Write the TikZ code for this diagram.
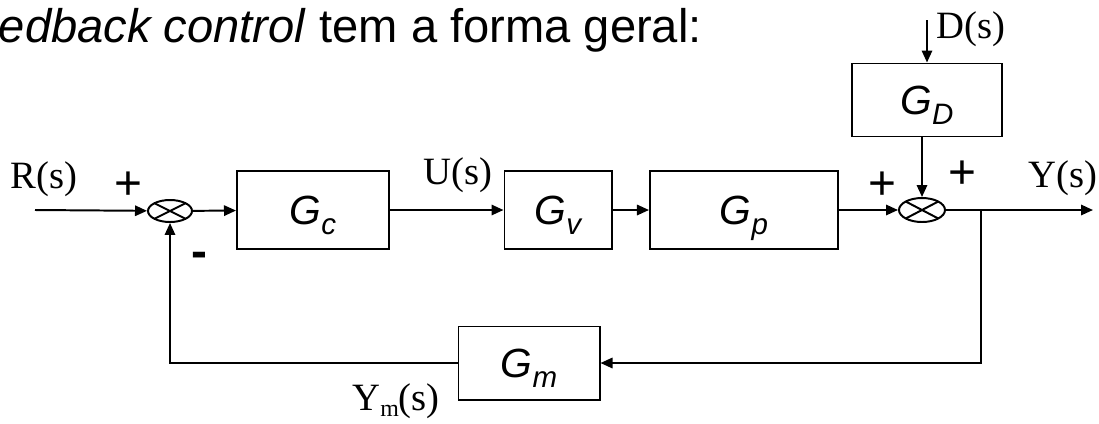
\documentclass[tikz,border=0pt]{standalone}
\usepackage{fontspec}
\setmainfont{Liberation Sans}
\newfontfamily\tms{Liberation Serif}
\usetikzlibrary{arrows.meta,shapes.geometric}
\newcommand{\gl}[1]{G\raisebox{-0.5ex}{\fontsize{21}{21}\selectfont #1}}
\tikzset{
  >={Triangle[length=3mm,width=2.6mm]},
  wire/.style={line width=1.4pt},
  sig/.style={->, line width=1.4pt},
  blk/.style={draw, line width=1.4pt, inner sep=0pt, minimum height=1.95cm,
    text height=20pt, text depth=0pt,
    font=\fontsize{29}{29}\selectfont\itshape},
  sumj/.style={draw, ellipse, line width=1.4pt, inner sep=0pt,
    minimum width=1.1cm, minimum height=0.55cm,
    path picture={\draw[line width=1.4pt]
      (path picture bounding box.north west) -- (path picture bounding box.south east)
      (path picture bounding box.south west) -- (path picture bounding box.north east);}},
  sgn/.style={inner sep=0pt, font=\fontsize{34}{40}\selectfont},
  lbl/.style={inner sep=0pt, anchor=base, font=\tms\fontsize{27.5}{30}\selectfont}
}
\begin{document}
\begin{tikzpicture}[x=0.025cm,y=-0.025cm]
    \useasboundingbox (0,0) rectangle (1099,423);

    % Title
    \node[anchor=base east, inner sep=0pt, font=\fontsize{33.5}{40}\selectfont] (title) at (702,42)
      {\textit{edback control} tem a forma geral:};

    % Summing junctions
    \node[sumj] (s1) at (170,211) {};
    \node[sumj, minimum width=1.15cm, minimum height=0.6cm] (s2) at (922,210) {};

    % Blocks
    \node[blk, minimum width=3.8cm] (gc) at (313,210) {\gl{c}};
    \node[blk, minimum width=2.675cm] (gv) at (558,210) {\gl{v}};
    \node[blk, minimum width=4.7cm] (gp) at (744,210) {\gl{p}};
    \node[blk, minimum width=3.75cm, minimum height=1.825cm] (gd) at (927,100) {\gl{D}};
    \node[blk, minimum width=3.525cm, minimum height=1.825cm] (gm) at (529,363) {\gl{m}};

    % Free ends
    \coordinate (rin) at (35,210);
    \coordinate (dtop) at (927,20);
    \coordinate (yout) at (1093,210);
    \coordinate (br) at (981,210);

    % Forward path
    \draw[sig] (rin) -- (s1);
    \draw[sig] (s1) -- (gc);
    \draw[sig] (gc) -- (gv);
    \draw[sig] (gv) -- (gp);
    \draw[sig] (gp) -- (s2);
    \draw[sig] (s2) -- (yout);

    % Disturbance
    \draw[sig] (dtop) -- (gd);
    \draw[sig] (s2 |- gd.south) -- (s2);

    % Feedback
    \draw[sig] (br) |- (gm);
    \draw[sig] (gm) -| (s1);

    % Signals
    \node[lbl] (r) at (44,188) {R(s)};
    \node[lbl] (u) at (458,184) {U(s)};
    \node[lbl] (y) at (1063,187) {Y(s)};
    \node[lbl] (d) at (971,38) {D(s)};
    \node[lbl] (ym) at (396,410) {Y\raisebox{-0.35ex}{\fontsize{17}{17}\selectfont m}(s)};

    % Signs
    \node[sgn] (p1) at (128,186) {+};
    \node[sgn] (m1) at (199,260) {\textbf{-}};
    \node[sgn] (p2) at (882,186) {+};
    \node[sgn] (p3) at (962,175) {+};

\end{tikzpicture}
\end{document}
